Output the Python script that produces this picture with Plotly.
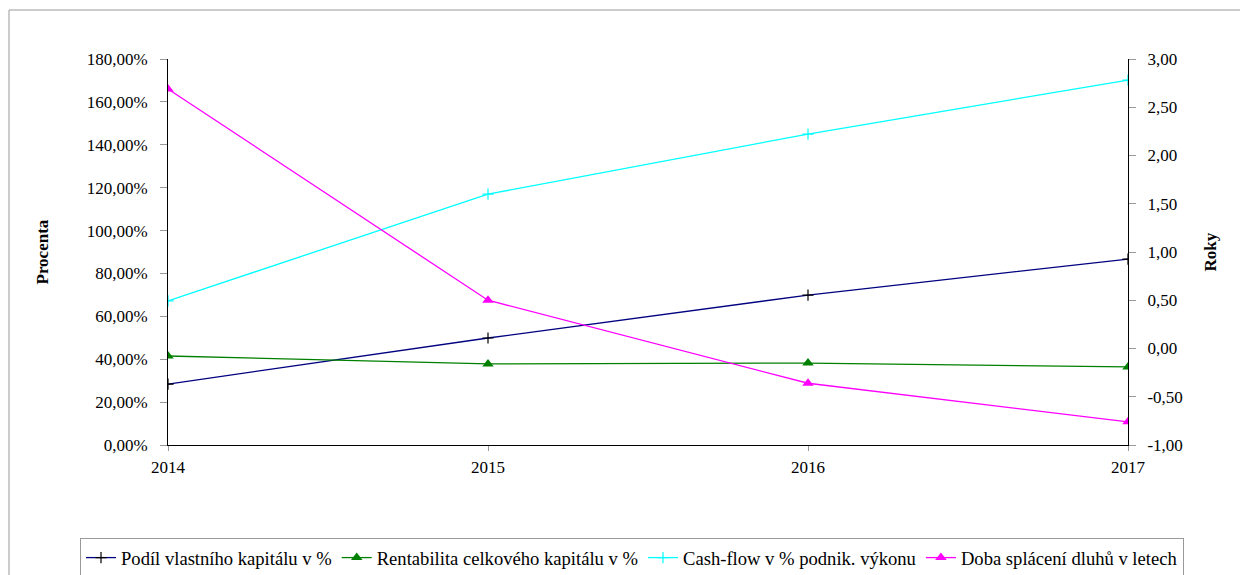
import plotly.graph_objects as go

years = [2014, 2015, 2016, 2017]
podil = [28.4, 49.9, 69.9, 86.7]
rentabilita = [41.5, 37.8, 38.2, 36.4]
cashflow = [67.2, 117.0, 145.0, 170.2]
doba = [2.69, 0.50, -0.36, -0.76]

left_ticks = [0, 20, 40, 60, 80, 100, 120, 140, 160, 180]
left_labels = ["0,00%", "20,00%", "40,00%", "60,00%", "80,00%", "100,00%",
               "120,00%", "140,00%", "160,00%", "180,00%"]
right_ticks = [-1.0, -0.5, 0.0, 0.5, 1.0, 1.5, 2.0, 2.5, 3.0]
right_labels = ["-1,00", "-0,50", "0,00", "0,50", "1,00", "1,50", "2,00", "2,50", "3,00"]

FONT = "Liberation Serif"
W, H = 1240, 567
L, T = 160, 51
PW, PH = 960, 386
R = W - L - PW
B = H - T - PH

fig = go.Figure()
fig.add_trace(go.Scatter(x=years, y=podil, name="Podíl vlastního kapitálu v %", mode="lines+markers",
                         line=dict(color="#000080", width=1.3),
                         marker=dict(symbol="cross-thin", size=8, color="black", line=dict(color="black", width=1.2))))
fig.add_trace(go.Scatter(x=years, y=rentabilita, name="Rentabilita celkového kapitálu v %", mode="lines+markers",
                         line=dict(color="#008000", width=1.3),
                         marker=dict(symbol="triangle-up", size=10, color="#008000")))
fig.add_trace(go.Scatter(x=years, y=cashflow, name="Cash-flow v % podnik. výkonu", mode="lines+markers",
                         line=dict(color="#00FFFF", width=1.3),
                         marker=dict(symbol="cross-thin", size=8, color="#00FFFF", line=dict(color="#00FFFF", width=1.2))))
fig.add_trace(go.Scatter(x=years, y=doba, name="Doba splácení dluhů v letech", mode="lines+markers",
                         yaxis="y2",
                         line=dict(color="#FF00FF", width=1.3),
                         marker=dict(symbol="triangle-up", size=10, color="#FF00FF")))

tf = dict(family=FONT, size=17, color="black")

fig.update_layout(
    width=W, height=H,
    margin=dict(l=L, r=R, t=T, b=B, autoexpand=False),
    paper_bgcolor="white", plot_bgcolor="white",
    font=dict(family=FONT, size=16, color="black"),
    showlegend=True,
    legend=dict(orientation="h", xref="paper", yref="paper",
                x=(72 - L) / PW, xanchor="left", y=(T + PH - 530) / PH, yanchor="top",
                bordercolor="#999999", borderwidth=1,
                font=dict(size=18.6, family=FONT, color="black"),
                itemwidth=30, tracegroupgap=0),
    xaxis=dict(range=[2014, 2017], tickvals=years, ticktext=[str(y) for y in years],
               showgrid=False, zeroline=False, showline=True, linecolor="black", linewidth=1,
               ticks="outside", ticklen=5, tickcolor="#999999", tickfont=tf, ticklabelstandoff=2),
    yaxis=dict(range=[0, 180], tickvals=left_ticks, ticktext=left_labels,
               showgrid=False, zeroline=False, showline=True, linecolor="black", linewidth=1,
               ticks="outside", ticklen=7, tickcolor="#999999", tickfont=tf, ticklabelstandoff=9),
    yaxis2=dict(range=[-1, 3], tickvals=right_ticks, ticktext=right_labels, overlaying="y", side="right",
                showgrid=False, zeroline=False, showline=True, linecolor="black", linewidth=1,
                ticks="outside", ticklen=7, tickcolor="#999999", tickfont=tf, ticklabelstandoff=8),
    annotations=[
        dict(text="<b>Procenta</b>", xref="paper", yref="paper", x=(22 - L) / PW, y=0.5,
             textangle=-90, showarrow=False, font=dict(family=FONT, size=17, color="black")),
        dict(text="<b>Roky</b>", xref="paper", yref="paper", x=(1213 - L) / PW, y=0.5,
             textangle=-90, showarrow=False, font=dict(family=FONT, size=17, color="black")),
    ],
    shapes=[dict(type="rect", xref="paper", yref="paper",
                 x0=(1 - L) / PW, x1=(1260 - L) / PW,
                 y0=(T + PH - 600) / PH, y1=(T + PH - 2) / PH,
                 line=dict(color="#999999", width=1), fillcolor="rgba(0,0,0,0)", layer="below")],
)

fig.write_html("out.html")
